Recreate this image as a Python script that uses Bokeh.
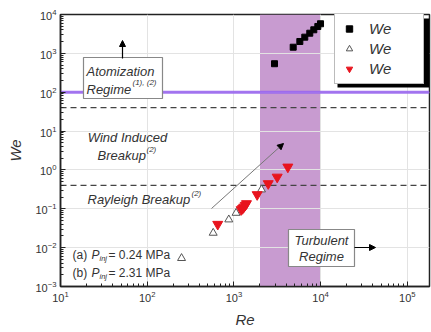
from bokeh.plotting import figure
from bokeh.models import (Range1d, BoxAnnotation, Label, Arrow, NormalHead,
                          Legend, LegendItem)
from bokeh.embed import file_html
from bokeh.resources import INLINE

# ---------------- data ----------------
re_we = [2940, 4830, 5760, 6570, 7500, 8350, 9290, 9980]
we_vals = [541, 1440, 2020, 2610, 3300, 4040, 4920, 5770]

re_a = [249, 577, 873, 1060, 2080]
weg_a = [0.00535, 0.0239, 0.0527, 0.078, 0.312]

re_b = [651, 1213, 1260, 1300, 1350, 1396, 1856, 2488, 3159, 4190]
weg_b = [0.040, 0.0953, 0.102, 0.111, 0.123, 0.136, 0.232, 0.445, 0.656, 1.19]

band_re = [2000, 10000]
atom_we = 100
dash_we = [40, 0.4]

FONT = "Liberation Sans"

# pixel -> data helpers for annotation placement (frame: x 60..429, y 14..286)
def X(px):
    return 10 ** (1 + (px - 60) / 86.7)

def Y(py):
    return 10 ** (4 - (py - 14) / 38.857)

XMIN, XMAX = 10, 10 ** (1 + 369 / 86.7)

p = figure(width=431, height=332, x_axis_type="log", y_axis_type="log",
           x_range=Range1d(XMIN, XMAX), y_range=Range1d(1e-3, 1e4),
           output_backend="svg", toolbar_location=None,
           min_border_left=60, min_border_right=2, min_border_top=14, min_border_bottom=46)

p.outline_line_color = "#222222"
p.outline_line_width = 1.5
p.background_fill_color = "white"
p.border_fill_color = "white"

for ax in (p.xaxis[0], p.yaxis[0]):
    ax.axis_line_color = "#222222"
    ax.axis_line_width = 1.5
    ax.major_tick_in = 5
    ax.major_tick_out = 0
    ax.minor_tick_in = 3
    ax.minor_tick_out = 0
    ax.major_tick_line_color = "#222222"
    ax.minor_tick_line_color = "#222222"
    ax.major_label_text_font = FONT
    ax.major_label_text_font_size = "11px"
    ax.major_label_text_color = "#333333"
    ax.axis_label_text_font = FONT
    ax.axis_label_text_font_style = "italic"
    ax.axis_label_text_font_size = "15px"
    ax.axis_label_text_color = "#333333"
    ax.major_label_standoff = 4

p.xaxis.axis_label = "Re"
p.yaxis.axis_label = "We"
p.xaxis.axis_label_standoff = 6
p.yaxis.axis_label_standoff = 8

p.xgrid.grid_line_color = "#e3e3e3"
p.ygrid.grid_line_color = "#e3e3e3"

# shaded band (below grid)
p.add_layout(BoxAnnotation(left=band_re[0], right=band_re[1], fill_color="#c89bd0",
                           fill_alpha=1.0, line_color=None, level="image"))

# white text boxes (pixel extents)
boxes = ((83, 162, 57, 98), (288, 354, 229, 266))

# atomization line, interrupted by the "Atomization Regime" box
p.multi_line([[XMIN, X(boxes[0][0])], [X(boxes[0][1]), XMAX]],
             [[atom_we, atom_we], [atom_we, atom_we]],
             line_color="#9966ee", line_width=3, line_alpha=0.9)
p.multi_line([[XMIN, XMAX] for _ in dash_we], [[d, d] for d in dash_we],
             line_color="#444444", line_width=1.3, line_dash="6 4")

p.quad(left=[X(b[0]) for b in boxes], right=[X(b[1]) for b in boxes],
       top=[Y(b[2]) for b in boxes], bottom=[Y(b[3]) for b in boxes],
       fill_color="white", fill_alpha=1.0, line_color="#888888", line_width=1.2)

# data
r_we = p.scatter(re_we, we_vals, marker="square", size=6, fill_color="black",
                 line_color="black")
r_a = p.scatter(re_a, weg_a, marker="triangle", size=8, fill_color="white",
                line_color="#555555", line_width=1)
r_b = p.scatter(re_b, weg_b, marker="inverted_triangle", size=10, fill_color="#e8141e",
                line_color="#e8141e")

head = dict(size=6, fill_color="black", line_color="black")
# diagonal arrow
p.add_layout(Arrow(x_start=X(211), y_start=Y(208), x_end=X(283), y_end=Y(143),
                   line_color="#777777", line_width=1, end=NormalHead(**head)))
# atomization arrow
p.add_layout(Arrow(x_start=X(122), y_start=Y(58), x_end=X(122), y_end=Y(40),
                   line_color="black", line_width=1.2, end=NormalHead(**head)))
# turbulent arrow
p.add_layout(Arrow(x_start=X(354), y_start=Y(247), x_end=X(375), y_end=Y(247),
                   line_color="black", line_width=1.2, end=NormalHead(**head)))

def lab(px, py, text, size="13px", style="italic", align="left", color="#333333"):
    p.add_layout(Label(x=X(px), y=Y(py), text=text, text_font=FONT,
                       text_font_size=size, text_font_style=style, text_align=align,
                       text_baseline="middle", text_color=color))

# Atomization regime
lab(86, 71, "Atomization")
lab(86, 89, "Regime")
lab(132, 82, "(1), (2)", "8px")

# Wind induced
lab(127, 137, "Wind Induced", align="center")
lab(97, 155, "Breakup")
lab(146, 149, "(2)", "8px")

# Rayleigh
lab(87, 199, "Rayleigh Breakup")
lab(191, 193, "(2)", "8px")

# Pressures
for py, tag, val in ((254, "(a)", "= 0.24 MPa"), (272, "(b)", "= 2.31 MPa")):
    lab(72, py, tag, "12px", style="normal")
    lab(91, py, "P", "12px")
    lab(99, py + 4, "inj", "7.5px")
    lab(108, py, val, "12px", style="normal")

# Turbulent regime
lab(321, 240, "Turbulent", align="center")
lab(321, 256, "Regime", align="center")

# legend shadow
p.add_layout(BoxAnnotation(left=X(337), right=X(429), top=Y(18), bottom=Y(87),
                           fill_color="black", fill_alpha=1, line_color=None))

legend = Legend(items=[LegendItem(label="We", renderers=[r_we]),
                       LegendItem(label="We", renderers=[r_a]),
                       LegendItem(label="We", renderers=[r_b])],
                location=(274, 202), orientation="vertical",
                padding=6, spacing=3, glyph_width=16, glyph_height=17,
                label_height=17, label_width=48, label_standoff=12, margin=0,
                label_text_font=FONT, label_text_font_style="italic",
                label_text_font_size="15px", label_text_color="#333333",
                border_line_color="#777777", border_line_width=1,
                background_fill_color="white", background_fill_alpha=1)
p.add_layout(legend, "center")

lab(392, 24, "(1)", "8px")
lab(391, 55, "g", "8px")
lab(396, 44, "(a), (2)", "8px")
lab(391, 75, "g", "8px")
lab(396, 64, "(b), (1)", "8px")

open("out.html", "w").write(file_html(p, INLINE))
